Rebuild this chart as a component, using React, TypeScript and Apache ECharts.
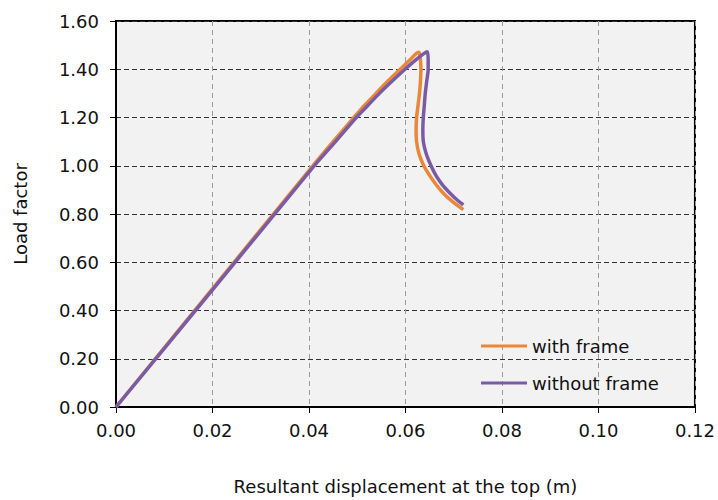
import React, { useEffect, useRef } from "react";
import * as echarts from "echarts";

const withFrameX = [0, 0.0204, 0.0408, 0.0450, 0.0493, 0.0515, 0.0539, 0.0563, 0.0589, 0.0610, 0.0622, 0.0628, 0.0631, 0.0632, 0.0631, 0.0629, 0.0626, 0.0623, 0.0622, 0.0623, 0.0628, 0.0638, 0.0650, 0.0664, 0.0679, 0.0697, 0.0720];
const withFrameY = [0, 0.5, 1.0, 1.1, 1.2, 1.25, 1.3, 1.35, 1.4, 1.44, 1.465, 1.47, 1.44, 1.4, 1.35, 1.3, 1.25, 1.2, 1.15, 1.1, 1.05, 1.0, 0.96, 0.92, 0.885, 0.852, 0.818];
const withoutFrameX = [0, 0.0206, 0.0411, 0.0455, 0.0498, 0.0522, 0.0546, 0.0572, 0.0599, 0.0622, 0.0638, 0.0645, 0.0647, 0.0647, 0.0644, 0.0641, 0.0639, 0.0637, 0.0636, 0.0637, 0.0643, 0.0653, 0.0663, 0.0677, 0.0693, 0.0706, 0.0720];
const withoutFrameY = [0, 0.5, 1.0, 1.1, 1.2, 1.25, 1.3, 1.35, 1.4, 1.44, 1.465, 1.473, 1.44, 1.4, 1.35, 1.3, 1.25, 1.2, 1.15, 1.1, 1.05, 1.0, 0.96, 0.92, 0.885, 0.86, 0.838];
const seriesNames = ["with frame", "without frame"];
const xTitle = "Resultant displacement at the top (m)";
const yTitle = "Load factor";

const FONT = "DejaVu Sans";

export default function App() {
  const ref = useRef<HTMLDivElement>(null);
  useEffect(() => {
    document.body.style.margin = "0";
    const chart = echarts.init(ref.current!, null, { renderer: "svg" });
    const zip = (xs: number[], ys: number[]) => xs.map((x, i) => [x, ys[i]]);
    chart.setOption({
      animation: false,
      backgroundColor: "#ffffff",
      textStyle: { fontFamily: FONT },
      grid: {
        left: 116,
        right: 22,
        top: 21,
        bottom: 88,
        show: true,
        backgroundColor: "#f2f2f2",
        borderColor: "#000",
        borderWidth: 2,
      },
      legend: {
        orient: "vertical",
        left: 476,
        top: 332,
        itemWidth: 46,
        itemHeight: 3,
        itemGap: 19,
        icon: "rect",
        textStyle: { fontFamily: FONT, fontSize: 18, color: "#111" },
        data: seriesNames,
      },
      xAxis: {
        type: "value",
        min: 0,
        max: 0.12,
        interval: 0.02,
        name: xTitle,
        nameLocation: "middle",
        nameGap: 70,
        nameTextStyle: { fontFamily: FONT, fontSize: 18, color: "#111" },
        axisLine: { show: true, lineStyle: { color: "#000", width: 2 } },
        axisTick: { show: true, length: 6, lineStyle: { color: "#000" } },
        axisLabel: {
          fontFamily: FONT,
          fontSize: 18,
          color: "#111",
          margin: 14,
          formatter: (v: number) => v.toFixed(2),
        },
        splitLine: { show: true, lineStyle: { color: "#9a9a9a", type: [5, 4], width: 1 } },
      },
      yAxis: {
        type: "value",
        min: 0,
        max: 1.6,
        interval: 0.2,
        name: yTitle,
        nameLocation: "middle",
        nameGap: 87,
        nameRotate: 90,
        nameTextStyle: { fontFamily: FONT, fontSize: 18, color: "#111" },
        axisLine: { show: true, lineStyle: { color: "#000", width: 2 } },
        axisTick: { show: true, length: 6, lineStyle: { color: "#000" } },
        axisLabel: {
          fontFamily: FONT,
          fontSize: 18,
          color: "#111",
          margin: 17,
          formatter: (v: number) => v.toFixed(2),
        },
        splitLine: { show: true, lineStyle: { color: "#333", type: [5, 3], width: 1 } },
      },
      series: [
        {
          name: seriesNames[0],
          type: "line",
          data: zip(withFrameX, withFrameY),
          showSymbol: false,
          smooth: 0.3,
          lineStyle: { color: "#e9873a", width: 3.5 },
          itemStyle: { color: "#e9873a" },
        },
        {
          name: seriesNames[1],
          type: "line",
          data: zip(withoutFrameX, withoutFrameY),
          showSymbol: false,
          smooth: 0.3,
          lineStyle: { color: "#7a5ca6", width: 3.5 },
          itemStyle: { color: "#7a5ca6" },
        },
      ],
    });
    return () => chart.dispose();
  }, []);
  return <div ref={ref} style={{ width: 718, height: 500 }} />;
}
